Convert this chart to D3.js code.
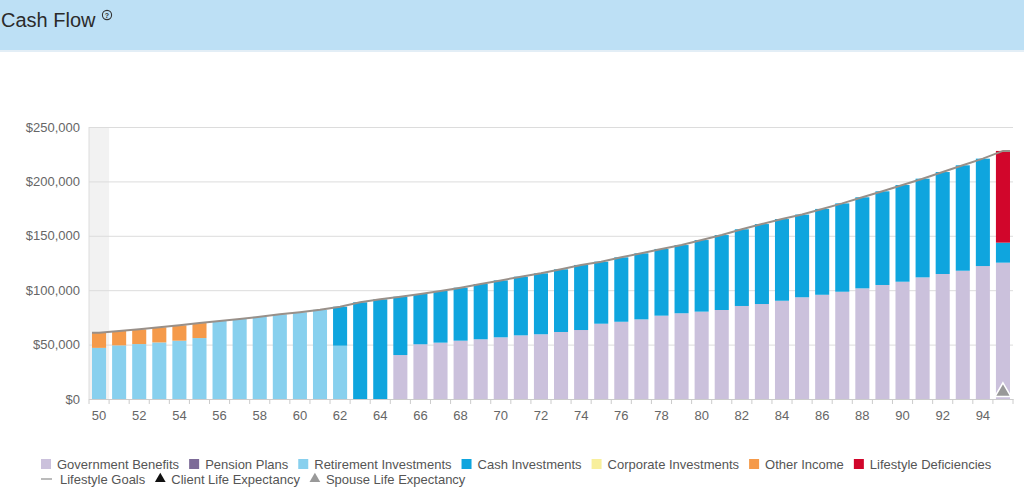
<!DOCTYPE html>
<html>
<head>
<meta charset="utf-8">
<script src="https://cdn.jsdelivr.net/npm/d3@7"></script>
<style>
  body { margin: 0; background: #fff; font-family: "Liberation Sans", Arial, sans-serif; }
  svg { display: block; }
</style>
</head>
<body>
<svg id="chart" width="1024" height="498"></svg>
<script>
// ages on the x axis
var ages = [50, 51, 52, 53, 54, 55, 56, 57, 58, 59, 60, 61, 62, 63, 64, 65, 66, 67, 68, 69, 70, 71, 72,
            73, 74, 75, 76, 77, 78, 79, 80, 81, 82, 83, 84, 85, 86, 87, 88, 89, 90, 91, 92, 93, 94, 95];

// series values, in $ thousands
var governmentBenefits = [0, 0, 0, 0, 0, 0, 0, 0, 0, 0, 0, 0, 0, 0, 0, 40.4, 50.3, 51.8, 53.6, 54.9, 56.7, 58.5, 59.5,
                          61.6, 63.4, 69.2, 71, 73.2, 76.6, 78.8, 80.3, 81.8, 85.5, 87.3, 90.3, 93.5, 95.8, 98.6, 101.7, 104.8, 107.8, 111.8, 114.9, 117.9, 122.2, 125.3];
var pensionPlans = [0, 0, 0, 0, 0, 0, 0, 0, 0, 0, 0, 0, 0, 0, 0, 0, 0, 0, 0, 0, 0, 0, 0,
                    0, 0, 0, 0, 0, 0, 0, 0, 0, 0, 0, 0, 0, 0, 0, 0, 0, 0, 0, 0, 0, 0, 0];
var retirementInvestments = [47, 49.3, 50.5, 52, 53.6, 56, 71.7, 73.5, 75.6, 77.8, 79.7, 82, 49, 0, 0, 0, 0, 0, 0, 0, 0, 0, 0,
                             0, 0, 0, 0, 0, 0, 0, 0, 0, 0, 0, 0, 0, 0, 0, 0, 0, 0, 0, 0, 0, 0, 0];
var cashInvestments = [0, 0, 0, 0, 0, 0, 0, 0, 0, 0, 0, 0, 35.8, 88.9, 91.6, 53.6, 46.2, 47.5, 48.7, 50.8, 52.3, 53.9, 56,
                       57.6, 59.8, 57, 59.2, 60.7, 61.3, 62.7, 65.8, 68.9, 70.5, 73.5, 75.1, 76, 78.9, 81.2, 83.7, 86.1, 88.9, 90.7, 93.7, 96.9, 98.7, 18.4];
var corporateInvestments = [0, 0, 0, 0, 0, 0, 0, 0, 0, 0, 0, 0, 0, 0, 0, 0, 0, 0, 0, 0, 0, 0, 0,
                            0, 0, 0, 0, 0, 0, 0, 0, 0, 0, 0, 0, 0, 0, 0, 0, 0, 0, 0, 0, 0, 0, 0];
var otherIncome = [14, 13.2, 13.5, 13.9, 14.1, 13.8, 0, 0, 0, 0, 0, 0, 0, 0, 0, 0, 0, 0, 0, 0, 0, 0, 0,
                   0, 0, 0, 0, 0, 0, 0, 0, 0, 0, 0, 0, 0, 0, 0, 0, 0, 0, 0, 0, 0, 0, 0];
var lifestyleDeficiencies = [0, 0, 0, 0, 0, 0, 0, 0, 0, 0, 0, 0, 0, 0, 0, 0, 0, 0, 0, 0, 0, 0, 0,
                             0, 0, 0, 0, 0, 0, 0, 0, 0, 0, 0, 0, 0, 0, 0, 0, 0, 0, 0, 0, 0, 0, 84.3];
var lifestyleGoals = [61, 62.5, 64, 65.9, 67.7, 69.8, 71.7, 73.5, 75.6, 77.8, 79.7, 82, 84.8, 88.9, 91.6, 94, 96.5, 99.3, 102.3, 105.7, 109, 112.4, 115.5,
                      119.2, 123.2, 126.2, 130.2, 133.9, 137.9, 141.5, 146.1, 150.7, 156, 160.8, 165.4, 169.5, 174.7, 179.8, 185.4, 190.9, 196.7, 202.5, 208.6, 214.8, 220.9, 228];
var spouseLifeExpectancy = [95];

var yTicks = [0, 50, 100, 150, 200, 250];
var xTickLabels = [50, 52, 54, 56, 58, 60, 62, 64, 66, 68, 70, 72, 74, 76, 78, 80, 82, 84, 86, 88, 90, 92, 94];

var seriesNames = ["Government Benefits", "Pension Plans", "Retirement Investments", "Cash Investments",
                   "Corporate Investments", "Other Income", "Lifestyle Deficiencies"];
var seriesColors = ["#cbc1dc", "#7d6b98", "#88d0ee", "#0fa5de", "#f8ef9c", "#f59a4a", "#d1062b"];

var svg = d3.select("#chart");

// header band
svg.append("rect").attr("x", 0).attr("y", 0).attr("width", 1024).attr("height", 50).attr("fill", "#bde0f5");
svg.append("rect").attr("x", 0).attr("y", 50).attr("width", 1024).attr("height", 2).attr("fill", "#e3eef6");
svg.append("text").attr("x", 1).attr("y", 27).attr("font-size", 20).attr("fill", "#2b2b2b").text("Cash Flow");
var help = svg.append("g").attr("transform", "translate(107,15)");
help.append("circle").attr("r", 4.6).attr("fill", "none").attr("stroke", "#333").attr("stroke-width", 1.1);
help.append("text").attr("y", 2.6).attr("text-anchor", "middle").attr("font-size", 7).attr("font-weight", "bold").attr("fill", "#333").text("?");

// scales
var plotLeft = 89, plotRight = 1013, plotTop = 127, plotBottom = 399;
var x = d3.scaleBand()
    .domain(ages)
    .range([plotLeft, plotRight])
    .paddingInner(0.3)
    .paddingOuter(0.15);
var y = d3.scaleLinear()
    .domain([0, 250])
    .range([plotBottom, plotTop]);

// plot band on first age
svg.append("rect")
    .attr("x", plotLeft).attr("y", plotTop)
    .attr("width", x.step()).attr("height", plotBottom - plotTop)
    .attr("fill", "#f2f2f2");

// grid + y labels
var yAxis = svg.append("g")
    .attr("transform", "translate(" + plotLeft + ",0)")
    .call(d3.axisLeft(y).tickValues(yTicks).tickSize(-(plotRight - plotLeft)).tickPadding(9)
        .tickFormat(function(d) { return d3.format("$,")(d * 1000); }));
yAxis.select(".domain").remove();
yAxis.selectAll(".tick line").attr("stroke", "#dcdcdc");
yAxis.selectAll(".tick text").attr("font-size", 13).attr("fill", "#666").attr("font-family", "Liberation Sans, Arial, sans-serif");
svg.append("line").attr("x1", plotLeft).attr("x2", plotLeft).attr("y1", plotTop).attr("y2", plotBottom).attr("stroke", "#dcdcdc");

// stacked bars
var table = ages.map(function(a, i) {
    return {
        age: a,
        "Government Benefits": governmentBenefits[i],
        "Pension Plans": pensionPlans[i],
        "Retirement Investments": retirementInvestments[i],
        "Cash Investments": cashInvestments[i],
        "Corporate Investments": corporateInvestments[i],
        "Other Income": otherIncome[i],
        "Lifestyle Deficiencies": lifestyleDeficiencies[i]
    };
});
var stacked = d3.stack().keys(seriesNames)(table);

svg.append("g")
    .selectAll("g")
    .data(stacked)
    .enter()
    .append("g")
    .attr("fill", function(d, i) { return seriesColors[i]; })
    .selectAll("rect")
    .data(function(d) { return d; })
    .enter()
    .append("rect")
        .attr("x", function(d) { return x(d.data.age); })
        .attr("width", x.bandwidth())
        .attr("y", function(d) { return y(d[1]); })
        .attr("height", function(d) { return y(d[0]) - y(d[1]); });

// x axis
var xAxis = svg.append("g")
    .attr("transform", "translate(0," + plotBottom + ")")
    .call(d3.axisBottom(x).tickValues(xTickLabels).tickSize(0).tickPadding(12));
xAxis.select(".domain").attr("stroke", "#cccccc");
xAxis.selectAll(".tick text").attr("font-size", 13).attr("fill", "#666").attr("font-family", "Liberation Sans, Arial, sans-serif");
// tick marks on category boundaries
svg.append("g")
    .selectAll("line")
    .data(ages.concat(["end"]))
    .enter()
    .append("line")
        .attr("x1", function(d) { return d === "end" ? plotRight : x(d) - x.step() * x.paddingInner() / 2; })
        .attr("x2", function(d) { return d === "end" ? plotRight : x(d) - x.step() * x.paddingInner() / 2; })
        .attr("y1", plotBottom).attr("y2", plotBottom + 5)
        .attr("stroke", "#cccccc");

// lifestyle goals line
var half = x.bandwidth() / 2;
var linePts = ages.map(function(a, i) { return [x(a) + half, y(lifestyleGoals[i])]; });
linePts.unshift([x(ages[0]), y(lifestyleGoals[0])]);
linePts.push([x(ages[ages.length - 1]) + x.bandwidth(), y(lifestyleGoals[lifestyleGoals.length - 1])]);
svg.append("path")
    .attr("d", d3.line()(linePts))
    .attr("fill", "none")
    .attr("stroke", "#999089")
    .attr("stroke-width", 2);

// spouse life expectancy marker
svg.selectAll(".spouse")
    .data(spouseLifeExpectancy)
    .enter()
    .append("path")
        .attr("class", "spouse")
        .attr("d", d3.symbol().type(d3.symbolTriangle).size(110))
        .attr("transform", function(d) { return "translate(" + (x(d) + half) + "," + (plotBottom - 7) + ")"; })
        .attr("fill", "#999")
        .attr("stroke", "#fff")
        .attr("stroke-width", 1.5);

// legend
var legendItems = seriesNames.map(function(n, i) { return { name: n, type: "square", color: seriesColors[i] }; });
legendItems.push({ name: "Lifestyle Goals", type: "line", color: "#bbbbbb" });
legendItems.push({ name: "Client Life Expectancy", type: "triangle", color: "#111" });
legendItems.push({ name: "Spouse Life Expectancy", type: "triangle", color: "#999" });

var legend = svg.append("g").attr("font-size", 13).attr("fill", "#555");
var lx = 41, ly = 464, maxX = 1000;
legendItems.forEach(function(item) {
    var g = legend.append("g");
    var t = g.append("text").attr("x", 16).attr("y", 4.5).text(item.name);
    var w = 16 + t.node().getComputedTextLength();
    if (lx + w > maxX) { lx = 41; ly += 15; }
    g.attr("transform", "translate(" + lx + "," + ly + ")");
    if (item.type === "square") {
        g.append("rect").attr("x", 0).attr("y", -5).attr("width", 10).attr("height", 10).attr("fill", item.color);
    } else if (item.type === "line") {
        g.append("line").attr("x1", 0).attr("x2", 11).attr("y1", 0).attr("y2", 0).attr("stroke", item.color).attr("stroke-width", 2);
        t.attr("x", 19);
        w += 3;
    } else {
        g.append("path").attr("d", d3.symbol().type(d3.symbolTriangle).size(50))
            .attr("transform", "translate(5,0)").attr("fill", item.color);
    }
    lx += w + 10;
});
</script>
</body>
</html>
